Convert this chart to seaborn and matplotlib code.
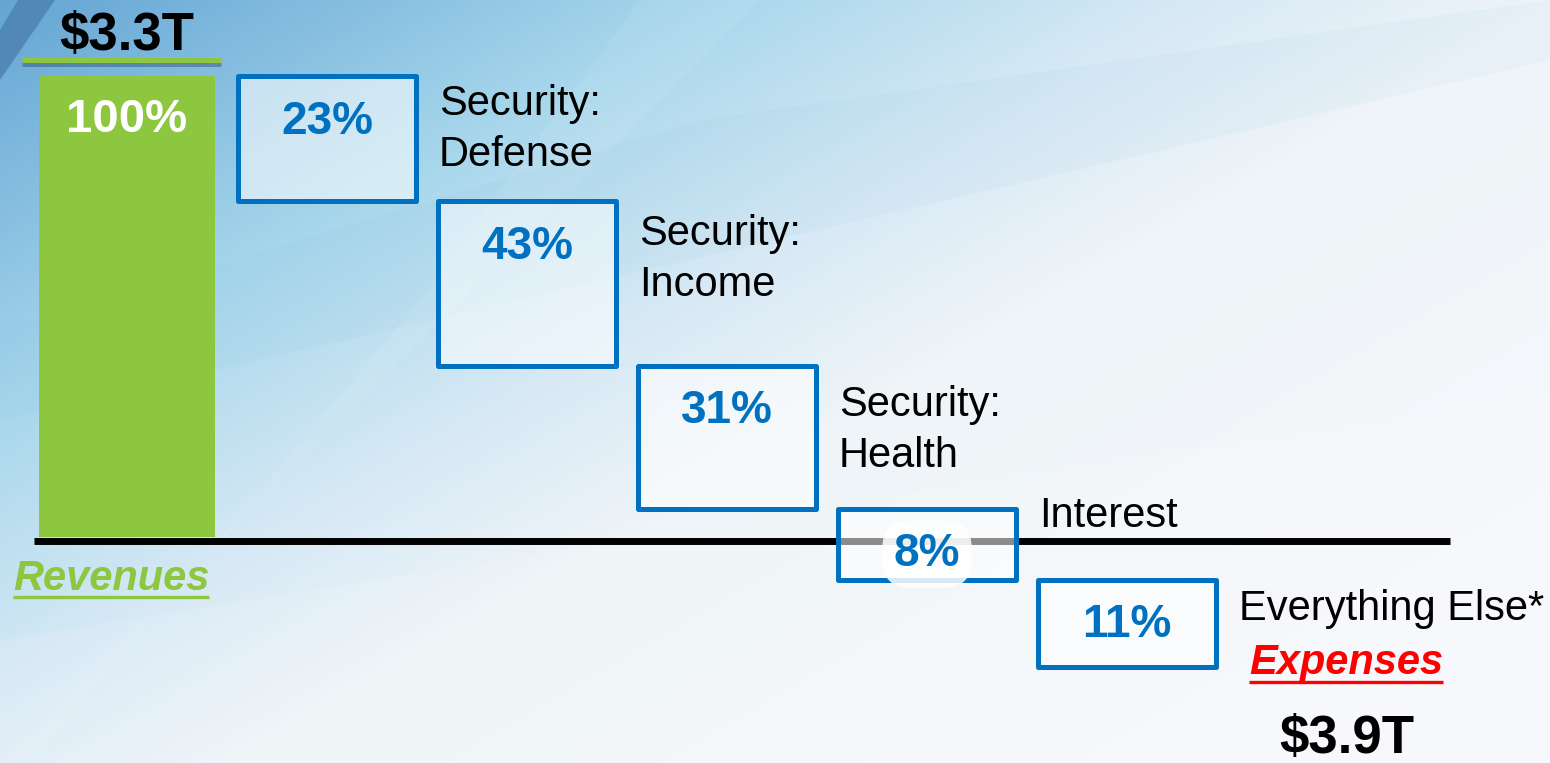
import numpy as np
import pandas as pd
import matplotlib
matplotlib.use("Agg")
import matplotlib.pyplot as plt
import seaborn as sns
from matplotlib import patheffects as pe
from matplotlib.patches import Polygon

# ---------------- data ----------------
categories = ["Revenues", "Security:\nDefense", "Security:\nIncome",
              "Security:\nHealth", "Interest", "Everything Else*"]
revenue_share = [100]
expense_labels = categories[1:]
expense_shares = [23, 43, 31, 8, 11]                  # labelled percentages
expense_box_heights = [27.2, 35.6, 31.0, 15.4, 18.9]  # drawn extent of each box
total_labels = ["$3.3T", "$3.9T"]

# ---------------- style ----------------
sns.set_theme(style="white")
plt.rcParams["font.family"] = ["Liberation Sans", "DejaVu Sans"]

GREEN = "#8DC63F"
BLUE = "#0070C0"

W, H = 1550, 763
fig = plt.figure(figsize=(W / 100, H / 100), dpi=100)

# ---------------- background ----------------
bg = fig.add_axes([0, 0, 1, 1], zorder=0)
yy, xx = np.mgrid[0:H, 0:W]
u = xx / W
v = yy / H
t = np.clip(0.65 * u + 0.55 * v, 0, 1)
stops = [0, 0.3, 0.5, 0.65, 1]
cols = np.array([(100, 165, 212), (168, 215, 236), (215, 233, 245),
                 (238, 244, 248), (246, 248, 251)]) / 255
img = np.stack([np.interp(t, stops, cols[:, k]) for k in range(3)], axis=-1)
bg.imshow(img, extent=(0, W, H, 0), aspect="auto", interpolation="bilinear")
bg.add_patch(Polygon([(0, 640), (1550, 392), (1550, 763), (0, 763)],
                     closed=True, facecolor="white", alpha=0.12, lw=0))
bg.add_patch(Polygon([(30, 763), (420, 300), (640, 0), (760, 0), (0, 763)],
                     closed=True, facecolor="white", alpha=0.07, lw=0))
bg.add_patch(Polygon([(0, 330), (700, 120), (1550, 0), (1550, 60), (0, 420)],
                     closed=True, facecolor="#6fb3d9", alpha=0.06, lw=0))
bg.add_patch(Polygon([(18, 0), (55, 0), (0, 80), (0, 30)],
                     closed=True, facecolor="#4E82B4", alpha=0.85, lw=0))
bg.set_xlim(0, W)
bg.set_ylim(H, 0)
bg.axis("off")

# ---------------- main axes ----------------
ax = fig.add_axes([0, 0, 1, 1], zorder=1)
ax.patch.set_alpha(0)

n_exp = len(expense_shares)
xpos = np.arange(1, n_exp + 1)

# revenue bar via seaborn
df_rev = pd.DataFrame({"pos": [categories[0]], "share": revenue_share})
sns.barplot(data=df_rev, x="pos", y="share", color=GREEN, saturation=1,
            width=0.88, linewidth=0, ax=ax, zorder=3)

# floating expense boxes
heights = np.array(expense_box_heights, dtype=float)
tops = revenue_share[0] - np.concatenate([[0], np.cumsum(heights[:-1])])
bottoms = tops - heights
ax.bar(xpos, heights, bottom=bottoms, width=0.89,
       facecolor=(1, 1, 1, 0.55), edgecolor=BLUE, linewidth=3.6,
       joinstyle="round", zorder=4)

# baseline
ax.hlines(-0.75, -0.465, 6.615, color="black", lw=5, zorder=2)

# revenue decorations
ax.hlines(103.4, -0.525, 0.47, color=GREEN, lw=3.6, zorder=5,
          path_effects=[pe.SimpleLineShadow(offset=(0, -2.5), shadow_color="#2d4f6e", alpha=0.45),
                        pe.Normal()])
ax.text(0, 105.6, total_labels[0], ha="center", va="baseline", fontsize=38,
        fontweight="bold", color="black", zorder=6)
ax.text(0, revenue_share[0] - 9.5, f"{revenue_share[0]}%", ha="center", va="center",
        fontsize=34, fontweight="bold", color="white", zorder=6)

# expense percentages
for x, top, bot, s in zip(xpos, tops, bottoms, expense_shares):
    bbox = None
    if bot < 0 < top:
        bbox = dict(boxstyle="round,pad=0.25,rounding_size=0.6", fc="white",
                    ec="none", alpha=0.85)
    ax.text(x, top - 9.9, f"{s}%", ha="center", va="center", fontsize=33,
            fontweight="bold", color=BLUE, zorder=6, bbox=bbox)

# expense category labels
label_top_offsets = [-1.8, -2.8, -4.3, 2.8, -2.1]
for x, top, lab, off in zip(xpos, tops, expense_labels, label_top_offsets):
    ax.text(x + 0.56, top + off, lab, ha="left", va="top", fontsize=30,
            color="black", linespacing=1.35, zorder=6)

# section titles
t_rev = ax.text(-0.08, -11.5, categories[0], ha="center", va="baseline",
                fontsize=30, fontweight="bold", fontstyle="italic", color=GREEN, zorder=6)
t_exp = ax.text(6.095, -29.6, "Expenses", ha="center", va="baseline",
                fontsize=30, fontweight="bold", fontstyle="italic", color="#FF0000", zorder=6)
ax.text(6.1, -46.8, total_labels[1], ha="center", va="baseline", fontsize=38,
        fontweight="bold", color="black", zorder=6)

ax.set_xlim(-0.635, 7.115)
ax.set_ylim(-49.0, 116.5)
ax.axis("off")

# underlines
fig.canvas.draw()
renderer = fig.canvas.get_renderer()
inv = ax.transData.inverted()
for txt, yline, col in [(t_rev, -13.1, GREEN), (t_exp, -31.5, "#FF0000")]:
    bb = txt.get_window_extent(renderer)
    x0 = inv.transform((bb.x0, 0))[0]
    x1 = inv.transform((bb.x1, 0))[0]
    ax.hlines(yline, x0, x1, color=col, lw=2.4, zorder=6)

fig.savefig("out.png", dpi=100)
